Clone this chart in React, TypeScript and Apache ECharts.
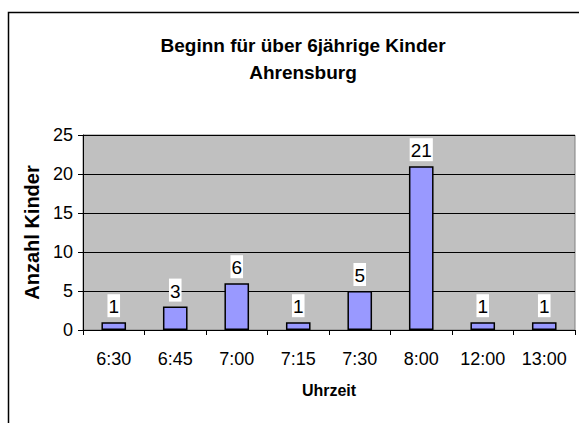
import React, { useEffect, useRef } from "react";
import * as echarts from "echarts";

const categories = ["6:30", "6:45", "7:00", "7:15", "7:30", "8:00", "12:00", "13:00"];
const values = [1, 3, 6, 1, 5, 21, 1, 1];
const titleLines = ["Beginn für über 6jährige Kinder", "Ahrensburg"];
const yAxisName = "Anzahl Kinder";
const xAxisName = "Uhrzeit";

const FONT = "'Liberation Sans', Arial, sans-serif";

export default function App() {
  const ref = useRef<HTMLDivElement>(null);
  useEffect(() => {
    if (!ref.current) return;
    const chart = echarts.init(ref.current, null, { renderer: "svg" });
    chart.setOption({
      animation: false,
      backgroundColor: "#ffffff",
      title: {
        text: titleLines.join("\n"),
        left: 298,
        top: 27,
        textAlign: "center",
        textStyle: {
          fontFamily: FONT,
          fontSize: 19,
          fontWeight: "bold",
          color: "#000",
          lineHeight: 27,
        },
      },
      graphic: [
        {
          type: "rect",
          shape: { x: 8.5, y: 12.5, width: 620, height: 500 },
          style: { fill: "none", stroke: "#000", lineWidth: 1.5 },
          z: 100,
        },
      ],
      grid: {
        left: 83,
        top: 135,
        width: 492,
        height: 195,
        show: true,
        backgroundColor: "#C0C0C0",
        borderColor: "#808080",
        borderWidth: 1,
      },
      xAxis: {
        type: "category",
        data: categories,
        name: xAxisName,
        nameLocation: "middle",
        nameGap: 52,
        nameTextStyle: { fontFamily: FONT, fontSize: 16, fontWeight: "bold", color: "#000" },
        axisLine: { lineStyle: { color: "#000", width: 1 } },
        axisTick: { show: true, length: 5, lineStyle: { color: "#000" } },
        axisLabel: { fontFamily: FONT, fontSize: 18, color: "#000", margin: 20 },
      },
      yAxis: {
        type: "value",
        min: 0,
        max: 25,
        interval: 5,
        name: yAxisName,
        nameLocation: "middle",
        nameGap: 36,
        nameTextStyle: { fontFamily: FONT, fontSize: 20, fontWeight: "bold", color: "#000" },
        axisLine: { show: true, lineStyle: { color: "#000", width: 1 } },
        axisTick: { show: true, length: 5, lineStyle: { color: "#000" } },
        axisLabel: { fontFamily: FONT, fontSize: 18, color: "#000", margin: 10 },
        splitLine: { show: true, lineStyle: { color: "#000", width: 1 } },
      },
      series: [
        {
          type: "bar",
          data: values,
          barWidth: "40%",
          itemStyle: { color: "#9999FF", borderColor: "#000", borderWidth: 1.5 },
          label: {
            show: true,
            position: "top",
            distance: 5,
            fontFamily: FONT,
            fontSize: 19,
            color: "#000",
            backgroundColor: "#fff",
            padding: [3, 1, 1, 1],
          },
        },
      ],
    });
    return () => chart.dispose();
  }, []);
  return (
    <div
      ref={ref}
      style={{ position: "absolute", left: 0, top: 0, width: 579, height: 423 }}
    />
  );
}
